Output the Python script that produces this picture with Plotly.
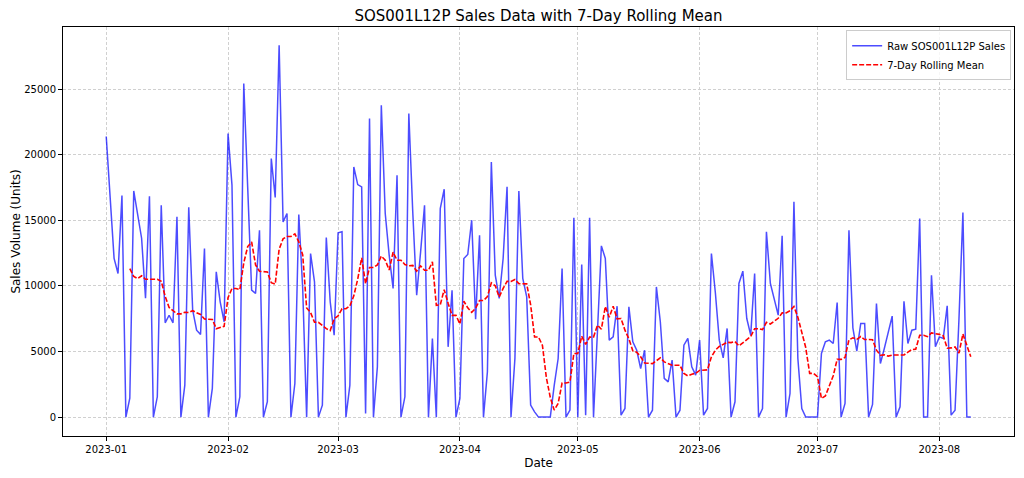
import pandas as pd
import plotly.graph_objects as go

start_date = "2023-01-01"
sales = [
    21400, 16500, 12100, 10950, 16900, 0, 1450, 17250, 15270, 13640,
    9070, 16840, 0, 1550, 16150, 7190, 7770, 7190, 15270, 0,
    2440, 16000, 8150, 6630, 6300, 12860, 0, 2185, 11080, 8790,
    7270, 21620, 17690, 0, 1550, 25440, 17500, 9680, 9430, 14255,
    0, 1170, 19720, 16745, 28360, 14890, 15525, 0, 2566, 15450,
    9790, 0, 12476, 10320, 0, 915, 13700, 8790, 6250, 14050,
    14130, 0, 2440, 19080, 17735, 17560, 280, 22770, 0, 3840,
    23780, 15525, 12350, 9810, 18450, 0, 1550, 23150, 15650, 9300,
    12600, 16160, 0, 6000, 0, 15900, 17380, 5360, 9680, 0,
    1420, 12100, 12400, 15020, 7470, 13870, 0, 3460, 19460, 10820,
    9050, 12100, 17560, 0, 4470, 17250, 10570, 9170, 915, 400,
    0, 0, 0, 0, 2420, 4470, 11330, 0, 530, 15200,
    0, 11640, 150, 15200, 0, 6880, 13060, 12100, 5870, 6120,
    8460, 150, 660, 8410, 5740, 5100, 3710, 5100, 0, 530,
    9930, 7270, 2950, 2690, 4345, 0, 530, 5490, 6000, 3840,
    3200, 5870, 150, 660, 12480, 9500, 5870, 4520, 6760, 0,
    1170, 10190, 11130, 7520, 6250, 10950, 0, 660, 14130, 10190,
    9050, 7775, 13820, 0, 1800, 16420, 4470, 660, 0, 0,
    0, 0, 4850, 5740, 5870, 5615, 8740, 0, 1040, 14255,
    6810, 5030, 7140, 7140, 0, 965, 8660, 4090, 5230, 6500,
    7700, 0, 790, 8840, 5615, 6630, 6710, 15145, 0, 0,
    10825, 5360, 6120, 6000, 8490, 150, 530, 7500, 15600, 0,
    0,
]
window = 7
tick_dates = ["2023-01-01", "2023-02-01", "2023-03-01", "2023-04-01",
              "2023-05-01", "2023-06-01", "2023-07-01", "2023-08-01"]
tick_labels = ["2023-01", "2023-02", "2023-03", "2023-04",
               "2023-05", "2023-06", "2023-07", "2023-08"]
y_ticks = [0, 5000, 10000, 15000, 20000, 25000]

dates = pd.date_range(start_date, periods=len(sales), freq="D")
s = pd.Series(sales, index=dates)
rolling = s.rolling(window).mean()

FONT = "DejaVu Sans"
fig = go.Figure()
fig.add_trace(go.Scatter(
    x=dates, y=s.values, mode="lines", name="Raw SOS001L12P Sales",
    line=dict(color="rgba(0,0,255,0.7)", width=1.5),
))
fig.add_trace(go.Scatter(
    x=dates, y=rolling.values, mode="lines", name="7-Day Rolling Mean",
    line=dict(color="#ff0000", width=1.6, dash="5px,2px"),
))

fig.update_layout(
    width=1024, height=478,
    margin=dict(l=63, r=10, t=27, b=42),
    paper_bgcolor="white", plot_bgcolor="white",
    font=dict(family=FONT, size=10, color="black"),
    title=dict(text="SOS001L12P Sales Data with 7-Day Rolling Mean",
               xref="paper", x=0.5, xanchor="center",
               yref="container", y=0.977, yanchor="top",
               font=dict(family=FONT, size=15, color="black")),
    showlegend=True,
    legend=dict(x=0.997, y=0.992, xanchor="right", yanchor="top",
                bgcolor="rgba(255,255,255,0.8)", bordercolor="#cccccc",
                borderwidth=1, font=dict(family=FONT, size=10),
                tracegroupgap=0, itemwidth=30),
)
fig.update_xaxes(
    range=["2022-12-21", "2023-08-20"],
    tickvals=tick_dates, ticktext=tick_labels,
    showline=True, linecolor="black", linewidth=1, mirror=True,
    ticks="outside", ticklen=4, tickcolor="black",
    showgrid=True, gridcolor="#d0d0d0", griddash="3px,2px", gridwidth=1,
    zeroline=False, automargin=False,
    title=dict(text="Date", font=dict(family=FONT, size=12), standoff=4),
)
fig.update_yaxes(
    range=[-1440, 29750],
    tickvals=y_ticks, ticktext=[str(v) for v in y_ticks],
    showline=True, linecolor="black", linewidth=1, mirror=True,
    ticks="outside", ticklen=4, tickcolor="black",
    showgrid=True, gridcolor="#d0d0d0", griddash="3px,2px", gridwidth=1,
    zeroline=False, automargin=False,
    title=dict(text="Sales Volume (Units)", font=dict(family=FONT, size=12), standoff=0),
)
fig.write_html("out.html", config={"displayModeBar": False},
               post_script="document.body.style.margin='0';")
